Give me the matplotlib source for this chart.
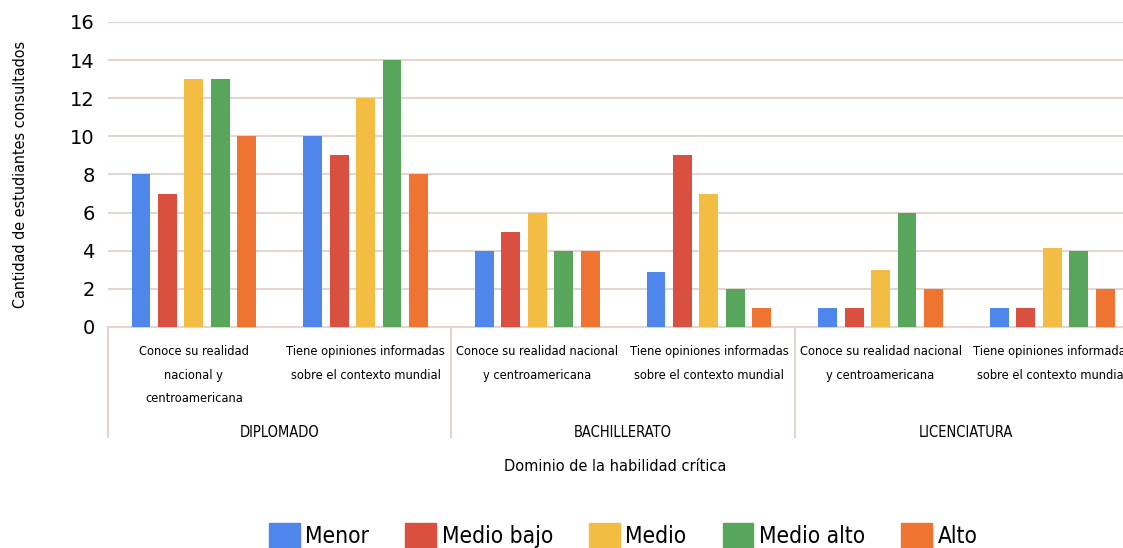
import numpy as np
import matplotlib
matplotlib.use("Agg")
import matplotlib.pyplot as plt
from matplotlib.patches import Patch
from matplotlib.transforms import blended_transform_factory

plt.rcParams['font.family'] = ['DejaVu Sans']
plt.rcParams['font.stretch'] = 'condensed'

# Datos
categorias = ["Conoce su realidad\nnacional y\ncentroamericana",
              "Tiene opiniones informadas\nsobre el contexto mundial",
              "Conoce su realidad nacional\ny centroamericana",
              "Tiene opiniones informadas\nsobre el contexto mundial",
              "Conoce su realidad nacional\ny centroamericana",
              "Tiene opiniones informadas\nsobre el contexto mundial"]
grupos = ["DIPLOMADO", "BACHILLERATO", "LICENCIATURA"]
series = ["Menor", "Medio bajo", "Medio", "Medio alto", "Alto"]
menor = [8, 10, 4, 2.9, 1, 1]
medio_bajo = [7, 9, 5, 9, 1, 1]
medio = [13, 12, 6, 7, 3, 4.15]
medio_alto = [13, 14, 4, 2, 6, 4]
alto = [10, 8, 4, 1, 2, 2]
valores = [menor, medio_bajo, medio, medio_alto, alto]
colores = ['#4F86EC', '#DA5040', '#F2BD42', '#58A55C', '#EF7331']
gris = '#E3D6D0'

fig = plt.figure(figsize=(11.23, 5.48), dpi=100)
ax = fig.add_axes([0.0962, 0.4033, 0.9172, 0.5566])

x = np.arange(len(categorias))
paso = 0.154
for i, (vals, col) in enumerate(zip(valores, colores)):
    ax.bar(x + (i - 2) * paso, vals, width=0.11, color=col, zorder=3)

ax.set_xlim(-0.5, 5.5)
ax.set_ylim(0, 16)
ax.set_yticks(range(0, 17, 2))
ax.tick_params(axis='y', length=0, labelsize=14, pad=9.5)
for lab in ax.get_yticklabels():
    lab.set_fontstretch('normal')
ax.set_xticks([])
ax.grid(axis='y', color=gris, lw=1.5, zorder=0)
for s in ['top', 'right', 'left']:
    ax.spines[s].set_visible(False)
ax.spines['bottom'].set_color(gris)
ax.spines['bottom'].set_linewidth(1.5)

# separadores del eje de categorías
trans = blended_transform_factory(ax.transData, ax.transAxes)
for xs in [-0.5, 1.5, 3.5]:
    ax.plot([xs, xs], [0, -0.36], transform=trans, color=gris, lw=1.5,
            clip_on=False)

for i, cat in enumerate(categorias):
    ax.text(x[i], -0.06, cat, transform=trans, ha='center', va='top',
            fontsize=9.2, linespacing=2.05)
for g, nombre in enumerate(grupos):
    ax.text(2 * g + 0.5, -0.345, nombre, transform=trans, ha='center',
            va='center', fontsize=10.5)

ax.set_ylabel("Cantidad de estudiantes consultados", fontsize=11.5)
ax.yaxis.set_label_coords(-0.078, 0.5)
fig.text(0.548, 0.148, "Dominio de la habilidad crítica", ha='center',
         va='center', fontsize=11.7)

handles = [Patch(color=c) for c in colores]
fig.legend(handles, series, loc='center', bbox_to_anchor=(0.555, 0.023),
           ncol=5, frameon=False, fontsize=16.3, handlelength=1.35,
           handleheight=1.35, handletextpad=0.25, columnspacing=1.6)

fig.savefig("out.png", dpi=100)
